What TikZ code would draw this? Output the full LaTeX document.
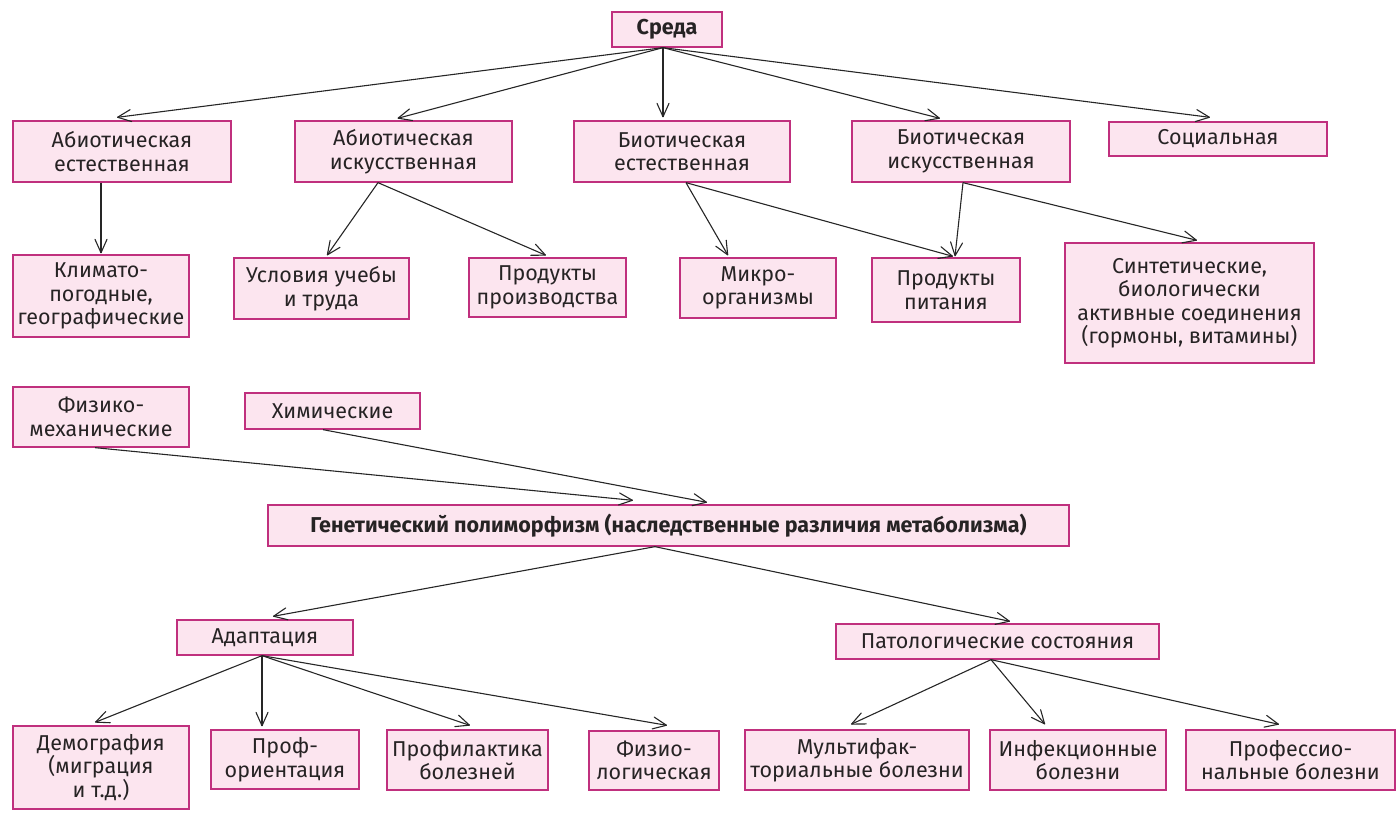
\documentclass[tikz,border=0pt]{standalone}
\usepackage{fontspec}
\setmainfont{Fira Sans}
\usetikzlibrary{arrows.meta}
\pgfdeclarearrow{
  name = VBarb,
  parameters = {\the\pgfarrowlength,\the\pgfarrowwidth},
  setup code = {
    \pgfarrowssettipend{0pt}
    \pgfarrowssetlineend{-0.6pt}
    \pgfarrowssetbackend{-\pgfarrowlength}
    \pgfarrowsupperhullpoint{-\pgfarrowlength}{0.5\pgfarrowwidth}
    \pgfarrowsupperhullpoint{0pt}{0pt}
    \pgfarrowssavethe\pgfarrowlength
    \pgfarrowssavethe\pgfarrowwidth
  },
  drawing code = {
    \pgfsetdash{}{0pt}\pgfsetroundcap\pgfsetroundjoin
    \pgfpathmoveto{\pgfqpoint{-\pgfarrowlength}{.5\pgfarrowwidth}}
    \pgfpathlineto{\pgfqpoint{-0.6pt}{0pt}}
    \pgfpathlineto{\pgfqpoint{-\pgfarrowlength}{-.5\pgfarrowwidth}}
    \pgfusepathqstroke
  },
  defaults = {length=14pt, width=12pt}
}
\definecolor{boxborder}{HTML}{C0307E}
\definecolor{boxfill}{HTML}{FCE5EF}
\definecolor{txt}{HTML}{262324}
\tikzset{
  box/.style={draw=boxborder, fill=boxfill, line width=1.3pt, inner sep=0pt,
    align=center, text=txt, font=\fontsize{21.5}{23.5}\selectfont},
  boldbox/.style={box, font=\fontsize{21.5}{23.5}\selectfont\bfseries},
  conn/.style={draw=black!85, line width=1.1pt, -{VBarb[length=14pt,width=12pt]}}
}
\begin{document}
\begin{tikzpicture}[x=1pt,y=-1pt]
\useasboundingbox (0,0) rectangle (1398,838);
% top
\node[boldbox, minimum width=110pt, minimum height=35pt] (sreda) at (667,29.5) {Среда};
% row 1
\node[box, minimum width=218pt, minimum height=61pt] (abE) at (122,151.5) {Абиотическая\\естественная};
\node[box, minimum width=217pt, minimum height=61pt] (abI) at (403.5,151.5) {Абиотическая\\искусственная};
\node[box, minimum width=216pt, minimum height=61pt] (biE) at (682,151.5) {Биотическая\\естественная};
\node[box, minimum width=218pt, minimum height=61pt] (biI) at (961,151.5) {Биотическая\\искусственная};
\node[box, minimum width=218pt, minimum height=34pt] (soc) at (1218,139) {Социальная};
% row 2
\node[box, minimum width=176pt, minimum height=82pt] (klim) at (101,296) {Климато-\\погодные,\\географические};
\node[box, minimum width=175pt, minimum height=61pt] (usl) at (321.5,288.5) {Условия учебы\\и труда};
\node[box, minimum width=157pt, minimum height=59pt] (prodP) at (547.5,287.5) {Продукты\\производства};
\node[box, minimum width=156pt, minimum height=60pt] (mikro) at (758,288) {Микро-\\организмы};
\node[box, minimum width=148pt, minimum height=64pt] (pit) at (946,290) {Продукты\\питания};
\node[box, minimum width=249pt, minimum height=120pt] (sint) at (1189.5,303) {Синтетические,\\биологически\\активные соединения\\(гормоны, витамины)};
% row 3
\node[box, minimum width=176pt, minimum height=60pt] (fiz) at (101,417) {Физико-\\механические};
\node[box, minimum width=175pt, minimum height=36pt] (him) at (332.5,411) {Химические};
\node[boldbox, minimum width=801pt, minimum height=41pt] (gen) at (668.5,525.5) {Генетический полиморфизм (наследственные различия метаболизма)};
% row 4
\node[box, minimum width=176pt, minimum height=35pt] (adap) at (265,637.5) {Адаптация};
\node[box, minimum width=323pt, minimum height=35pt] (pat) at (997.5,641.5) {Патологические состояния};
% row 5
\node[box, minimum width=176pt, minimum height=83pt] (dem) at (101,767.5) {Демография\\(миграция\\и т.д.)};
\node[box, minimum width=148pt, minimum height=59pt] (prof) at (285,759.5) {Проф-\\ориентация};
\node[box, minimum width=161pt, minimum height=60pt] (profil) at (467.5,760) {Профилактика\\болезней};
\node[box, minimum width=130pt, minimum height=59pt] (fiziol) at (654,760.5) {Физио-\\логическая};
\node[box, minimum width=224pt, minimum height=60pt] (mult) at (857,760) {Мультифак-\\ториальные болезни};
\node[box, minimum width=176pt, minimum height=60pt] (inf) at (1078,760) {Инфекционные\\болезни};
\node[box, minimum width=209pt, minimum height=60pt] (profes) at (1290.5,760) {Профессио-\\нальные болезни};
% connectors
\draw[conn] ([xshift=-4pt]sreda.south) -- ([xshift=-5pt,yshift=3pt]abE.north);
\draw[conn] ([xshift=-4pt]sreda.south) -- ([xshift=-6pt,yshift=2pt]abI.north);
\draw[conn] ([xshift=-4pt]sreda.south) -- ([xshift=-19pt,yshift=3pt]biE.north);
\draw[conn] ([xshift=-4pt]sreda.south) -- ([xshift=-21pt,yshift=2pt]biI.north);
\draw[conn] ([xshift=-4pt]sreda.south) -- ([xshift=-8pt,yshift=4pt]soc.north);
\draw[conn] ([xshift=-21pt]abE.south) -- ([yshift=1pt]klim.north);
\draw[conn] ([xshift=-25.5pt]abI.south) -- ([xshift=5.5pt,yshift=2pt]usl.north);
\draw[conn] ([xshift=-25.5pt]abI.south) -- ([xshift=-1.5pt,yshift=2pt]prodP.north);
\draw[conn] ([xshift=4pt]biE.south) -- ([xshift=-30pt,yshift=2pt]mikro.north);
\draw[conn] ([xshift=4pt]biE.south) -- ([xshift=7pt,yshift=1pt]pit.north);
\draw[conn] ([xshift=2pt]biI.south) -- ([xshift=9pt,yshift=1pt]pit.north);
\draw[conn] ([xshift=2pt]biI.south) -- ([xshift=7.5pt,yshift=2pt]sint.north);
\draw[conn] ([xshift=-6pt]fiz.south) -- ([xshift=-35.5pt,yshift=4pt]gen.north);
\draw[conn] ([xshift=-9.5pt]him.south) -- ([xshift=38.5pt,yshift=2pt]gen.north);
\draw[conn] ([xshift=-13.5pt]gen.south) -- ([xshift=8pt,yshift=3pt]adap.north);
\draw[conn] ([xshift=-13.5pt]gen.south) -- ([xshift=12.5pt,yshift=2pt]pat.north);
\draw[conn] ([xshift=-3pt]adap.south) -- ([xshift=-6pt,yshift=3pt]dem.north);
\draw[conn] ([xshift=-3pt]adap.south) -- ([xshift=-23pt,yshift=3pt]prof.north);
\draw[conn] ([xshift=-3pt]adap.south) -- ([xshift=2.5pt,yshift=4pt]profil.north);
\draw[conn] ([xshift=-3pt]adap.south) -- ([xshift=13pt,yshift=5pt]fiziol.north);
\draw[conn] ([xshift=-6.5pt]pat.south) -- ([xshift=-6pt,yshift=5pt]mult.north);
\draw[conn] ([xshift=-6.5pt]pat.south) -- ([xshift=-33pt,yshift=5pt]inf.north);
\draw[conn] ([xshift=-6.5pt]pat.south) -- ([xshift=-11.5pt,yshift=5pt]profes.north);
\end{tikzpicture}
\end{document}
